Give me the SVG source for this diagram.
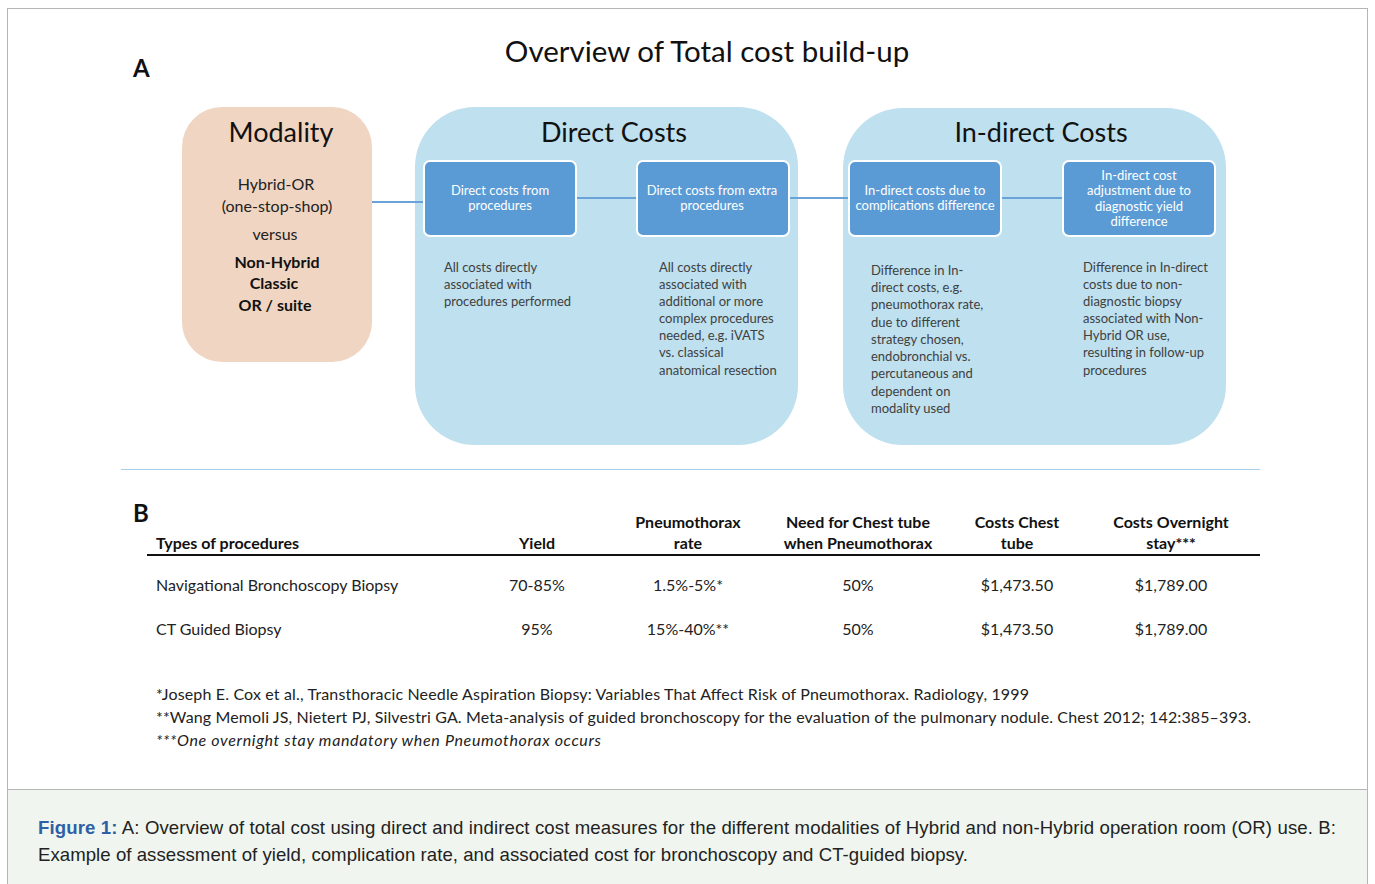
<svg xmlns="http://www.w3.org/2000/svg" width="1375" height="884" viewBox="0 0 1375 884">
  <style>
    .cal { font-family: Lato, "Open Sans", "Liberation Sans", sans-serif; }
    .title { font-size: 29.5px; fill: #111; }
    .head { font-size: 27px; fill: #111; text-anchor: middle; }
    .mod { font-size: 16px; fill: #222; text-anchor: middle; }
    .modb { font-size: 16px; fill: #111; font-weight: bold; text-anchor: middle; }
    .box { fill: #5B9BD5; stroke: #FFFFFF; stroke-width: 2; }
    .boxt { font-size: 13px; fill: #FFFFFF; text-anchor: middle; }
    .desc { font-size: 13px; fill: #404040; }
    .th { font-size: 16px; font-weight: bold; fill: #111; }
    .td { font-size: 16px; fill: #222; }
    .c { text-anchor: middle; }
    .fn { font-size: 16px; fill: #222; }
    .link { stroke: #6AA3D8; stroke-width: 2; fill: none; }
    .cap { font-family: "Liberation Sans", Arial, sans-serif; font-size: 18.6px; fill: #222; }
  </style>

  <!-- page frame -->
  <rect x="7.5" y="8.5" width="1360" height="880" fill="#FFFFFF" stroke="#B5B5B5" stroke-width="1"/>

  <!-- panel A -->
  <text class="cal" x="133" y="77" font-size="24" font-weight="bold" fill="#111">A</text>
  <text class="cal title" x="707" y="62" text-anchor="middle">Overview of Total cost build-up</text>

  <!-- containers -->
  <g id="modality">
    <rect x="182" y="107" width="190" height="255" rx="40" fill="#F0D5C2"/>
    <text class="cal head" x="281" y="142">Modality</text>
    <text class="cal mod" x="276" y="190">Hybrid-OR</text>
    <text class="cal mod" x="277" y="212" fill="#333">(one-stop-shop)</text>
    <text class="cal mod" x="275" y="240" font-size="15" fill="#444">versus</text>
    <text class="cal modb" x="277" y="268">Non-Hybrid</text>
    <text class="cal modb" x="274" y="289">Classic</text>
    <text class="cal modb" x="275" y="311">OR / suite</text>
  </g>

  <g id="direct-costs">
    <rect x="415" y="107" width="383" height="338" rx="60" fill="#BEE0EF"/>
    <text class="cal head" x="614" y="142">Direct Costs</text>
  </g>

  <g id="indirect-costs">
    <rect x="843" y="108" width="383" height="337" rx="60" fill="#BEE0EF"/>
    <text class="cal head" x="1041" y="142">In-direct Costs</text>
  </g>

  <!-- connectors -->
  <g id="connectors">
    <line class="link" x1="372" y1="202" x2="424" y2="202"/>
    <line class="link" x1="576" y1="198" x2="637" y2="198"/>
    <line class="link" x1="789" y1="198" x2="849" y2="198"/>
    <line class="link" x1="1001" y1="198" x2="1063" y2="198"/>
  </g>

  <!-- cost component boxes -->
  <g id="direct-procedures">
    <rect class="box" x="424" y="161" width="152" height="75" rx="6"/>
    <text class="cal boxt" x="500" y="195">Direct costs from</text>
    <text class="cal boxt" x="500" y="210">procedures</text>
    <text class="cal desc" x="444" y="272">All costs directly</text>
    <text class="cal desc" x="444" y="289">associated  with</text>
    <text class="cal desc" x="444" y="306">procedures performed</text>
  </g>

  <g id="direct-extra">
    <rect class="box" x="637" y="161" width="152" height="75" rx="6"/>
    <text class="cal boxt" x="712" y="195">Direct costs from extra</text>
    <text class="cal boxt" x="712" y="210">procedures</text>
    <text class="cal desc" x="659" y="272">All costs directly</text>
    <text class="cal desc" x="659" y="289">associated  with</text>
    <text class="cal desc" x="659" y="306">additional or more</text>
    <text class="cal desc" x="659" y="323">complex  procedures</text>
    <text class="cal desc" x="659" y="340">needed, e.g. iVATS</text>
    <text class="cal desc" x="659" y="357">vs. classical</text>
    <text class="cal desc" x="659" y="375">anatomical resection</text>
  </g>

  <g id="indirect-complications">
    <rect class="box" x="849" y="161" width="152" height="75" rx="6"/>
    <text class="cal boxt" x="925" y="195">In-direct costs due to</text>
    <text class="cal boxt" x="925" y="210">complications difference</text>
    <text class="cal desc" x="871" y="275">Difference in In-</text>
    <text class="cal desc" x="871" y="292">direct costs, e.g.</text>
    <text class="cal desc" x="871" y="309">pneumothorax rate,</text>
    <text class="cal desc" x="871" y="327">due to different</text>
    <text class="cal desc" x="871" y="344">strategy chosen,</text>
    <text class="cal desc" x="871" y="361">endobronchial vs.</text>
    <text class="cal desc" x="871" y="378">percutaneous and</text>
    <text class="cal desc" x="871" y="396">dependent on</text>
    <text class="cal desc" x="871" y="413">modality used</text>
  </g>

  <g id="indirect-yield">
    <rect class="box" x="1063" y="161" width="152" height="75" rx="6"/>
    <text class="cal boxt" x="1139" y="180">In-direct cost</text>
    <text class="cal boxt" x="1139" y="195">adjustment due to</text>
    <text class="cal boxt" x="1139" y="211">diagnostic yield</text>
    <text class="cal boxt" x="1139" y="226">difference</text>
    <text class="cal desc" x="1083" y="272">Difference in In-direct</text>
    <text class="cal desc" x="1083" y="289">costs due to non-</text>
    <text class="cal desc" x="1083" y="306">diagnostic biopsy</text>
    <text class="cal desc" x="1083" y="323">associated with Non-</text>
    <text class="cal desc" x="1083" y="340">Hybrid OR use,</text>
    <text class="cal desc" x="1083" y="357">resulting in follow-up</text>
    <text class="cal desc" x="1083" y="375">procedures</text>
  </g>

  <!-- divider between panels -->
  <line x1="121" y1="469.5" x2="1260" y2="469.5" stroke="#A9CFEA" stroke-width="1.2"/>

  <!-- panel B table -->
  <g id="table">
    <text class="cal" x="133" y="522" font-size="24" font-weight="bold" fill="#111">B</text>
    <text class="cal th" x="156" y="549">Types of procedures</text>
    <text class="cal th c" x="537" y="549">Yield</text>
    <text class="cal th c" x="688" y="528">Pneumothorax</text>
    <text class="cal th c" x="688" y="549">rate</text>
    <text class="cal th c" x="858" y="528">Need for Chest tube</text>
    <text class="cal th c" x="858" y="549">when Pneumothorax</text>
    <text class="cal th c" x="1017" y="528">Costs Chest</text>
    <text class="cal th c" x="1017" y="549">tube</text>
    <text class="cal th c" x="1171" y="528">Costs Overnight</text>
    <text class="cal th c" x="1171" y="549">stay***</text>
    <line x1="147" y1="555" x2="1260" y2="555" stroke="#111" stroke-width="2"/>

    <text class="cal td" x="156" y="591">Navigational Bronchoscopy Biopsy</text>
    <text class="cal td c" x="537" y="591">70-85%</text>
    <text class="cal td c" x="688" y="591">1.5%-5%*</text>
    <text class="cal td c" x="858" y="591">50%</text>
    <text class="cal td c" x="1017" y="591">$1,473.50</text>
    <text class="cal td c" x="1171" y="591">$1,789.00</text>

    <text class="cal td" x="156" y="635">CT Guided Biopsy</text>
    <text class="cal td c" x="537" y="635">95%</text>
    <text class="cal td c" x="688" y="635">15%-40%**</text>
    <text class="cal td c" x="858" y="635">50%</text>
    <text class="cal td c" x="1017" y="635">$1,473.50</text>
    <text class="cal td c" x="1171" y="635">$1,789.00</text>
  </g>

  <!-- footnotes -->
  <g id="footnotes">
    <text class="cal fn" x="156" y="700" textLength="873" lengthAdjust="spacing">*Joseph E. Cox et al., Transthoracic Needle Aspiration Biopsy: Variables That Affect Risk of Pneumothorax. Radiology, 1999</text>
    <text class="cal fn" x="156" y="723" textLength="1095" lengthAdjust="spacing">**Wang Memoli JS, Nietert PJ, Silvestri GA. Meta-analysis of guided bronchoscopy for the evaluation of the pulmonary nodule. Chest 2012; 142:385–393.</text>
    <text class="cal fn" x="156" y="746" font-style="italic" textLength="445" lengthAdjust="spacing">***One overnight stay mandatory when Pneumothorax occurs</text>
  </g>

  <!-- caption -->
  <g id="caption">
    <rect x="7.5" y="789.5" width="1360" height="100" fill="#F0F6EF" stroke="#B5B5B5" stroke-width="1"/>
    <text class="cap" x="38" y="834" textLength="1298" lengthAdjust="spacing"><tspan font-weight="bold" fill="#2F5FA5">Figure 1:</tspan> A: Overview of total cost using direct and indirect cost measures for the different modalities of Hybrid and non-Hybrid operation room (OR) use. B:</text>
    <text class="cap" x="38" y="861" textLength="930" lengthAdjust="spacing">Example of assessment of yield, complication rate, and associated cost for bronchoscopy and CT-guided biopsy.</text>
  </g>
</svg>
